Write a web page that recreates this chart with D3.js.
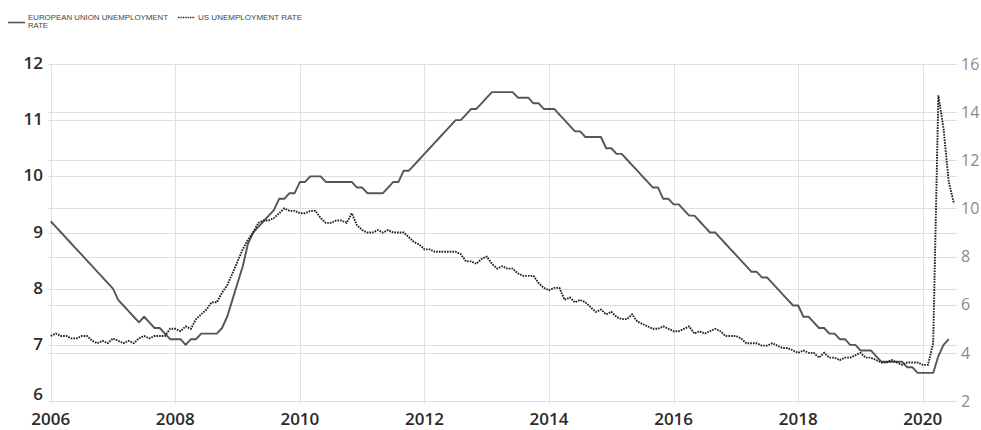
<!DOCTYPE html>
<html>
<head>
<meta charset="utf-8">
<script src="https://cdn.jsdelivr.net/npm/d3@7"></script>
<style>
  body { margin: 0; background: #fff; }
  svg { display: block; }
</style>
</head>
<body>
<div id="chart"></div>
<script>
// monthly values, starting january 2006
var startYear = 2006;

var euRate = [
  9.2, 9.1, 9.0, 8.9, 8.8, 8.7, 8.6, 8.5, 8.4, 8.3, 8.2, 8.1,
  8.0, 7.8, 7.7, 7.6, 7.5, 7.4, 7.5, 7.4, 7.3, 7.3, 7.2, 7.1,
  7.1, 7.1, 7.0, 7.1, 7.1, 7.2, 7.2, 7.2, 7.2, 7.3, 7.5, 7.8,
  8.1, 8.4, 8.8, 9.0, 9.1, 9.2, 9.3, 9.4, 9.6, 9.6, 9.7, 9.7,
  9.9, 9.9, 10.0, 10.0, 10.0, 9.9, 9.9, 9.9, 9.9, 9.9, 9.9, 9.8,
  9.8, 9.7, 9.7, 9.7, 9.7, 9.8, 9.9, 9.9, 10.1, 10.1, 10.2, 10.3,
  10.4, 10.5, 10.6, 10.7, 10.8, 10.9, 11.0, 11.0, 11.1, 11.2, 11.2, 11.3,
  11.4, 11.5, 11.5, 11.5, 11.5, 11.5, 11.4, 11.4, 11.4, 11.3, 11.3, 11.2,
  11.2, 11.2, 11.1, 11.0, 10.9, 10.8, 10.8, 10.7, 10.7, 10.7, 10.7, 10.5,
  10.5, 10.4, 10.4, 10.3, 10.2, 10.1, 10.0, 9.9, 9.8, 9.8, 9.6, 9.6,
  9.5, 9.5, 9.4, 9.3, 9.3, 9.2, 9.1, 9.0, 9.0, 8.9, 8.8, 8.7,
  8.6, 8.5, 8.4, 8.3, 8.3, 8.2, 8.2, 8.1, 8.0, 7.9, 7.8, 7.7,
  7.7, 7.5, 7.5, 7.4, 7.3, 7.3, 7.2, 7.2, 7.1, 7.1, 7.0, 7.0,
  6.9, 6.9, 6.9, 6.8, 6.7, 6.7, 6.7, 6.7, 6.7, 6.6, 6.6, 6.5,
  6.5, 6.5, 6.5, 6.8, 7.0, 7.1
];

var usRate = [
  4.7, 4.8, 4.7, 4.7, 4.6, 4.6, 4.7, 4.7, 4.5, 4.4, 4.5, 4.4,
  4.6, 4.5, 4.4, 4.5, 4.4, 4.6, 4.7, 4.6, 4.7, 4.7, 4.7, 5.0,
  5.0, 4.9, 5.1, 5.0, 5.4, 5.6, 5.8, 6.1, 6.1, 6.5, 6.8, 7.3,
  7.8, 8.3, 8.7, 9.0, 9.4, 9.5, 9.5, 9.6, 9.8, 10.0, 9.9, 9.9,
  9.8, 9.8, 9.9, 9.9, 9.6, 9.4, 9.4, 9.5, 9.5, 9.4, 9.8, 9.3,
  9.1, 9.0, 9.0, 9.1, 9.0, 9.1, 9.0, 9.0, 9.0, 8.8, 8.6, 8.5,
  8.3, 8.3, 8.2, 8.2, 8.2, 8.2, 8.2, 8.1, 7.8, 7.8, 7.7, 7.9,
  8.0, 7.7, 7.5, 7.6, 7.5, 7.5, 7.3, 7.2, 7.2, 7.2, 6.9, 6.7,
  6.6, 6.7, 6.7, 6.2, 6.3, 6.1, 6.2, 6.1, 5.9, 5.7, 5.8, 5.6,
  5.7, 5.5, 5.4, 5.4, 5.6, 5.3, 5.2, 5.1, 5.0, 5.0, 5.1, 5.0,
  4.9, 4.9, 5.0, 5.1, 4.8, 4.9, 4.8, 4.9, 5.0, 4.9, 4.7, 4.7,
  4.7, 4.6, 4.4, 4.4, 4.4, 4.3, 4.3, 4.4, 4.3, 4.2, 4.2, 4.1,
  4.0, 4.1, 4.0, 4.0, 3.8, 4.0, 3.8, 3.8, 3.7, 3.8, 3.8, 3.9,
  4.0, 3.8, 3.8, 3.7, 3.6, 3.6, 3.7, 3.6, 3.5, 3.6, 3.6, 3.6,
  3.5, 3.5, 4.4, 14.7, 13.3, 11.1, 10.2
];

var yearTicks = [2006, 2008, 2010, 2012, 2014, 2016, 2018, 2020];
var leftTicks = [6, 7, 8, 9, 10, 11, 12];
var rightTicks = [2, 4, 6, 8, 10, 12, 14, 16];

var w = 981, h = 430;

var svg = d3.select('#chart').append('svg')
  .attr('width', w)
  .attr('height', h);

var x = d3.scaleLinear().domain([2006, 2020]).range([50.7, 922.8]);
var yLeft = d3.scaleLinear().domain([6, 12]).range([401, 64]);
var yRight = d3.scaleLinear().domain([2, 16]).range([401, 64]);

var gridLeft = 48, gridRight = 957;

// horizontal grid for both axes
svg.append('g').selectAll('line')
  .data(rightTicks).enter().append('line')
  .attr('x1', gridLeft).attr('x2', gridRight)
  .attr('y1', function(d) { return Math.round(yRight(d)) + 0.5; })
  .attr('y2', function(d) { return Math.round(yRight(d)) + 0.5; })
  .attr('stroke', '#dedede')
  .attr('stroke-width', 1);

svg.append('g').selectAll('line')
  .data(leftTicks).enter().append('line')
  .attr('x1', gridLeft).attr('x2', gridRight)
  .attr('y1', function(d) { return Math.round(yLeft(d)) + 0.5; })
  .attr('y2', function(d) { return Math.round(yLeft(d)) + 0.5; })
  .attr('stroke', '#dedede')
  .attr('stroke-width', 1);

// vertical grid
svg.append('g').selectAll('line')
  .data(yearTicks).enter().append('line')
  .attr('x1', function(d) { return Math.round(x(d)) + 0.5; })
  .attr('x2', function(d) { return Math.round(x(d)) + 0.5; })
  .attr('y1', 64).attr('y2', 404)
  .attr('stroke', '#e2e2e2')
  .attr('stroke-width', 1);

// axis labels - the lowest left label sits a little higher, clear of the years
svg.append('g').selectAll('text')
  .data(leftTicks).enter().append('text')
  .attr('x', 43)
  .attr('y', function(d, i) { return yLeft(d) - (i == 0 ? 6 : 0); })
  .attr('dy', '0.3em')
  .attr('text-anchor', 'end')
  .style('font-family', '"Open Sans", sans-serif')
  .style('font-size', '17px')
  .style('font-weight', 600)
  .style('fill', '#2a2a2a')
  .text(function(d) { return d; });

svg.append('g').selectAll('text')
  .data(rightTicks).enter().append('text')
  .attr('x', 961)
  .attr('y', function(d) { return yRight(d); })
  .attr('dy', '0.36em')
  .attr('text-anchor', 'start')
  .style('font-family', '"Open Sans", sans-serif')
  .style('font-size', '16px')
  .style('fill', '#8a8a8a')
  .text(function(d) { return d; });

svg.append('g').selectAll('text')
  .data(yearTicks).enter().append('text')
  .attr('x', function(d) { return x(d); })
  .attr('y', 425)
  .attr('text-anchor', 'middle')
  .style('font-family', '"Open Sans", sans-serif')
  .style('font-size', '17px')
  .style('font-weight', 600)
  .style('fill', '#2a2a2a')
  .text(function(d) { return d; });

// lines
var euLine = d3.line()
  .x(function(d, i) { return x(startYear + i / 12); })
  .y(function(d) { return yLeft(d); });

var usLine = d3.line()
  .x(function(d, i) { return x(startYear + i / 12); })
  .y(function(d) { return yRight(d); });

svg.append('path')
  .datum(euRate)
  .attr('d', euLine)
  .attr('fill', 'none')
  .attr('stroke', '#555')
  .attr('stroke-width', 1.9)
  .attr('stroke-linejoin', 'round');

svg.append('path')
  .datum(usRate)
  .attr('d', usLine)
  .attr('fill', 'none')
  .attr('stroke', '#1e1e1e')
  .attr('stroke-width', 1.9)
  .attr('stroke-dasharray', '1.6,1.1');

// legend
var legend = svg.append('g')
  .style('font-family', '"Liberation Sans", Arial, sans-serif')
  .style('font-size', '8px')
  .style('fill', '#444');

legend.append('line')
  .attr('x1', 8).attr('x2', 25).attr('y1', 22.5).attr('y2', 22.5)
  .attr('stroke', '#555').attr('stroke-width', 1.6);
legend.append('text').attr('x', 28).attr('y', 19.5)
  .attr('textLength', 140).attr('lengthAdjust', 'spacingAndGlyphs')
  .text('EUROPEAN UNION UNEMPLOYMENT');
legend.append('text').attr('x', 28).attr('y', 27.5)
  .attr('textLength', 20).attr('lengthAdjust', 'spacingAndGlyphs')
  .text('RATE');

legend.append('line')
  .attr('x1', 178).attr('x2', 195).attr('y1', 17.5).attr('y2', 17.5)
  .attr('stroke', '#222').attr('stroke-width', 1.4)
  .attr('stroke-dasharray', '1.4,1');
legend.append('text').attr('x', 198).attr('y', 20)
  .attr('textLength', 104).attr('lengthAdjust', 'spacingAndGlyphs')
  .text('US UNEMPLOYMENT RATE');
</script>
</body>
</html>
